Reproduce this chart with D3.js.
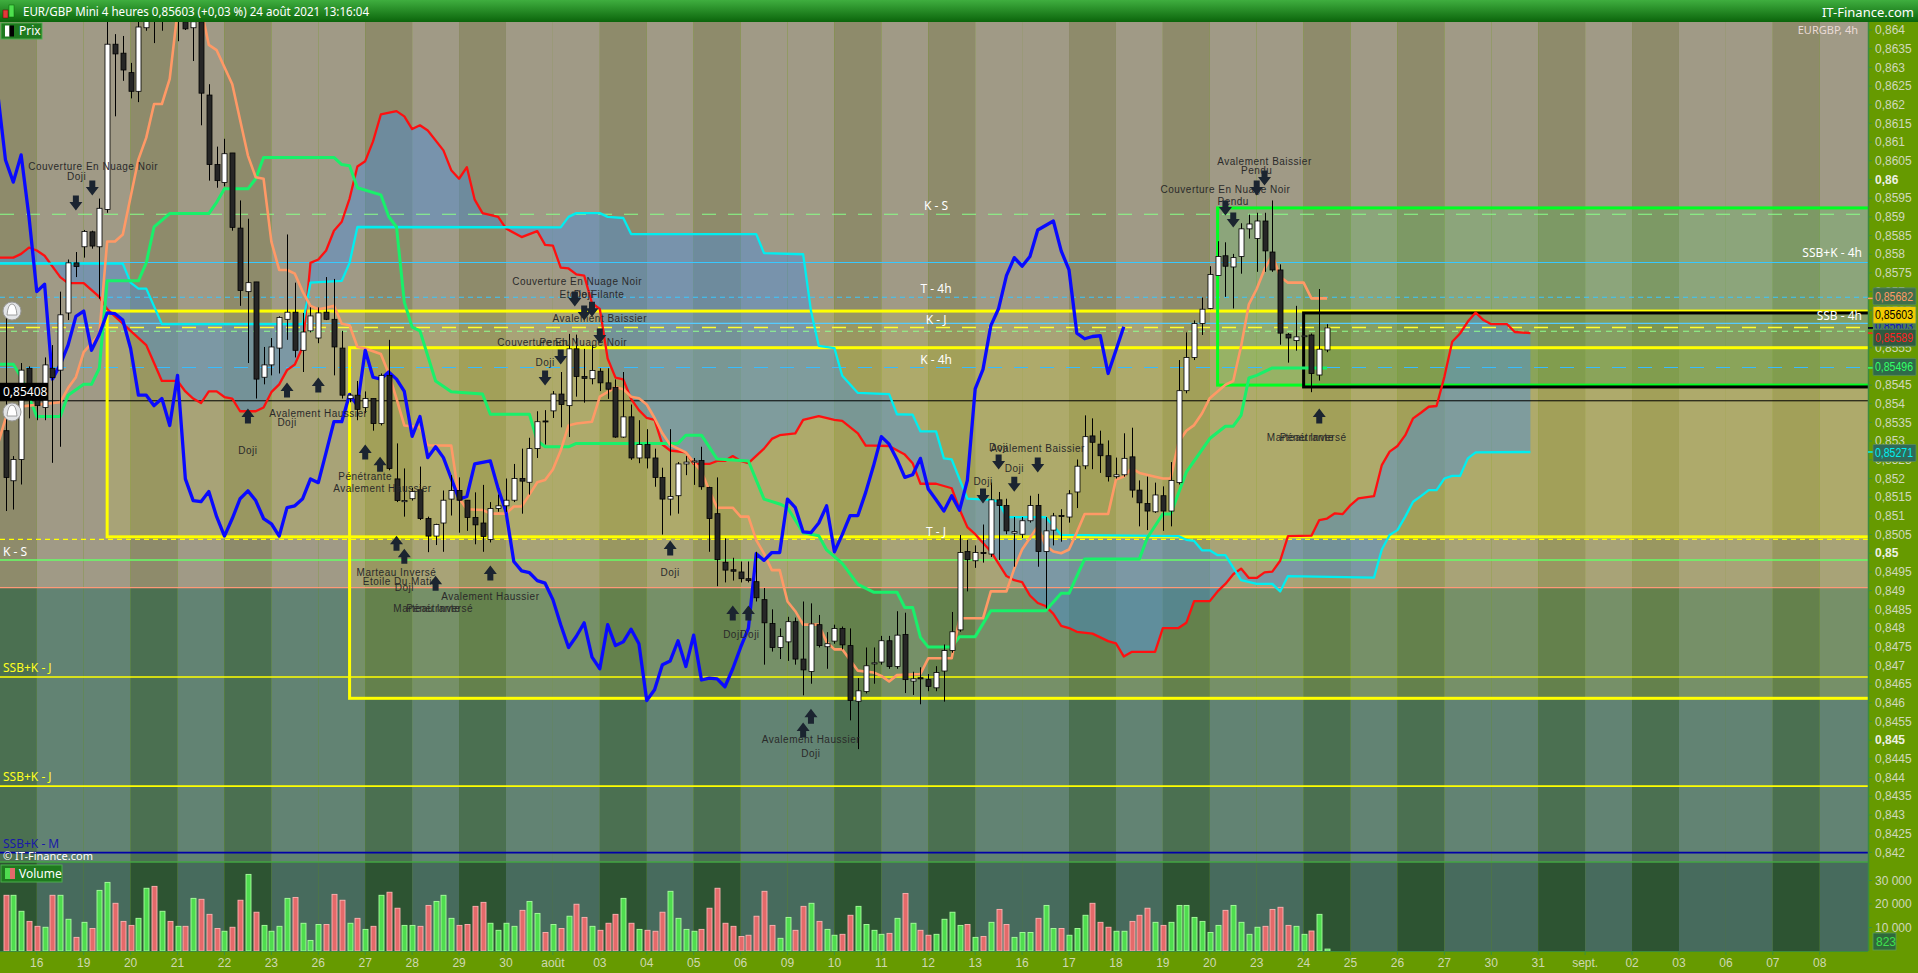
<!DOCTYPE html>
<html>
<head>
<meta charset="utf-8">
<script src="https://cdn.jsdelivr.net/npm/d3@7"></script>
<style>
html, body { margin: 0; padding: 0; background: #669a00; overflow: hidden; }
svg { display: block; }
</style>
</head>
<body>
<script>
// 4h candles, bar index 0 = 15 juil. 08:00 ... 169 = 24 août 12:00
const openP = [0.85328,0.85194,0.85251,0.85495,0.85420,0.85390,0.85495,0.85490,0.85643,0.85777,
0.85820,0.85860,0.85820,0.85920,0.86362,0.86338,0.86286,0.86236,0.86406,0.86500,
0.86450,0.86540,0.86440,0.86422,0.86406,0.86422,0.86226,0.86040,0.85992,0.86071,
0.85870,0.85700,0.85726,0.85471,0.85504,0.85549,0.85626,0.85645,0.85543,0.85595,
0.85576,0.85645,0.85626,0.85549,0.85414,0.85423,0.85390,0.85414,0.85347,0.85476,
0.85199,0.85138,0.85146,0.85170,0.85093,0.85046,0.85081,0.85145,0.85168,0.85142,
0.85096,0.85081,0.85037,0.85120,0.85127,0.85142,0.85200,0.85190,0.85280,0.85354,
0.85381,0.85426,0.85395,0.85547,0.85473,0.85467,0.85487,0.85456,0.85444,0.85311,
0.85365,0.85255,0.85291,0.85255,0.85203,0.85145,0.85154,0.85239,0.85244,0.85248,
0.85176,0.85106,0.84976,0.84956,0.84950,0.84932,0.84924,0.84876,0.84812,0.84748,
0.84763,0.84817,0.84717,0.84684,0.84809,0.84750,0.84765,0.84799,0.84753,0.84604,
0.84630,0.84704,0.84709,0.84766,0.84697,0.84783,0.84658,0.84667,0.84662,0.84640,
0.84685,0.84740,0.84795,0.85005,0.84980,0.85002,0.84998,0.85143,0.85128,0.85054,
0.85051,0.85087,0.85128,0.85005,0.85062,0.85101,0.85097,0.85164,0.85234,0.85314,
0.85292,0.85261,0.85205,0.85210,0.85258,0.85169,0.85133,0.85111,0.85154,0.85113,
0.85189,0.85435,0.85524,0.85615,0.85655,0.85743,0.85796,0.85766,0.85794,0.85868,
0.85842,0.85889,0.85806,0.85758,0.85586,0.85569,0.85580,0.85584,0.85477,0.85544];
const highP = [0.85634,0.85260,0.85509,0.85500,0.85433,0.85524,0.85557,0.85700,0.85786,0.85806,
0.85865,0.85863,0.85949,0.86422,0.86389,0.86384,0.86312,0.86440,0.86520,0.86550,
0.86580,0.86600,0.86550,0.86460,0.86450,0.86450,0.86255,0.86088,0.86109,0.86071,
0.85944,0.85895,0.85726,0.85552,0.85576,0.85634,0.85853,0.85724,0.85643,0.85658,
0.85658,0.85739,0.85734,0.85595,0.85428,0.85461,0.85433,0.85414,0.85481,0.85571,
0.85294,0.85227,0.85175,0.85232,0.85098,0.85079,0.85168,0.85209,0.85203,0.85142,
0.85163,0.85183,0.85137,0.85157,0.85200,0.85239,0.85280,0.85309,0.85380,0.85383,
0.85434,0.85485,0.85587,0.85585,0.85547,0.85557,0.85495,0.85495,0.85465,0.85485,
0.85398,0.85356,0.85332,0.85280,0.85229,0.85332,0.85244,0.85260,0.85255,0.85285,
0.85178,0.85203,0.85040,0.84988,0.84978,0.84978,0.85004,0.84907,0.84850,0.84799,
0.84830,0.84828,0.84871,0.84866,0.84835,0.84789,0.84809,0.84804,0.84799,0.84666,
0.84748,0.84748,0.84779,0.84779,0.84845,0.84841,0.84683,0.84695,0.84677,0.84698,
0.84756,0.84843,0.85049,0.85036,0.85021,0.85077,0.85189,0.85164,0.85146,0.85097,
0.85097,0.85154,0.85159,0.85097,0.85108,0.85118,0.85169,0.85251,0.85369,0.85361,
0.85328,0.85302,0.85256,0.85321,0.85336,0.85195,0.85205,0.85189,0.85179,0.85244,
0.85517,0.85591,0.85623,0.85684,0.85768,0.85835,0.85832,0.85801,0.85883,0.85906,
0.85911,0.85911,0.85944,0.85773,0.85589,0.85662,0.85584,0.85588,0.85707,0.85613];
const lowP = [0.85113,0.85117,0.85184,0.85361,0.85356,0.85356,0.85242,0.85285,0.85624,0.85739,
0.85791,0.85815,0.85681,0.85911,0.86169,0.86264,0.86217,0.86207,0.86398,0.86365,
0.86398,0.86440,0.86370,0.86400,0.86317,0.86145,0.85997,0.85978,0.85982,0.85863,
0.85662,0.85509,0.85414,0.85452,0.85476,0.85481,0.85571,0.85524,0.85485,0.85591,
0.85562,0.85624,0.85476,0.85414,0.85404,0.85356,0.85375,0.85328,0.85342,0.85222,
0.85137,0.85098,0.85141,0.85089,0.85003,0.85022,0.85004,0.85101,0.85055,0.85060,
0.85024,0.85004,0.85029,0.85111,0.85111,0.85137,0.85106,0.85157,0.85255,0.85291,
0.85362,0.85337,0.85311,0.85419,0.85403,0.85452,0.85434,0.85413,0.85309,0.85309,
0.85250,0.85241,0.85227,0.85178,0.85050,0.85101,0.85106,0.85209,0.85183,0.85170,
0.85004,0.84912,0.84922,0.84927,0.84922,0.84922,0.84871,0.84702,0.84737,0.84717,
0.84712,0.84702,0.84620,0.84651,0.84748,0.84691,0.84758,0.84743,0.84553,0.84476,
0.84625,0.84651,0.84702,0.84691,0.84691,0.84626,0.84621,0.84596,0.84631,0.84631,
0.84603,0.84734,0.84790,0.84898,0.84961,0.84975,0.84990,0.84982,0.85051,0.84964,
0.85041,0.85082,0.84964,0.84852,0.85021,0.85031,0.85082,0.85121,0.85225,0.85225,
0.85215,0.85192,0.85200,0.85205,0.85149,0.85072,0.85062,0.85108,0.85060,0.85072,
0.85184,0.85428,0.85517,0.85584,0.85653,0.85743,0.85686,0.85655,0.85748,0.85842,
0.85753,0.85753,0.85753,0.85558,0.85510,0.85542,0.85578,0.85431,0.85462,0.85538];
const closeP = [0.85203,0.85251,0.85490,0.85414,0.85395,0.85504,0.85470,0.85638,0.85777,0.85767,
0.85861,0.85822,0.85923,0.86362,0.86336,0.86293,0.86236,0.86408,0.86480,0.86460,
0.86520,0.86480,0.86500,0.86403,0.86422,0.86231,0.86040,0.85997,0.86069,0.85872,
0.85703,0.85724,0.85466,0.85504,0.85552,0.85631,0.85645,0.85543,0.85592,0.85635,
0.85643,0.85626,0.85552,0.85423,0.85423,0.85385,0.85414,0.85347,0.85476,0.85227,
0.85141,0.85141,0.85165,0.85093,0.85046,0.85077,0.85142,0.85168,0.85142,0.85096,
0.85076,0.85045,0.85120,0.85127,0.85142,0.85200,0.85193,0.85280,0.85352,0.85352,
0.85426,0.85398,0.85547,0.85473,0.85468,0.85489,0.85456,0.85439,0.85311,0.85365,
0.85255,0.85291,0.85255,0.85203,0.85145,0.85152,0.85239,0.85244,0.85247,0.85178,
0.85093,0.84983,0.84955,0.84952,0.84932,0.84927,0.84881,0.84814,0.84748,0.84777,
0.84817,0.84717,0.84688,0.84811,0.84753,0.84758,0.84799,0.84755,0.84606,0.84632,
0.84699,0.84707,0.84766,0.84697,0.84781,0.84662,0.84664,0.84664,0.84644,0.84681,
0.84740,0.84790,0.85002,0.84983,0.85002,0.85000,0.85143,0.85128,0.85060,0.85058,
0.85087,0.85128,0.85005,0.85060,0.85100,0.85099,0.85159,0.85233,0.85312,0.85297,
0.85261,0.85205,0.85210,0.85254,0.85169,0.85135,0.85113,0.85156,0.85113,0.85195,
0.85435,0.85524,0.85615,0.85653,0.85746,0.85794,0.85768,0.85791,0.85868,0.85881,
0.85889,0.85809,0.85758,0.85589,0.85576,0.85579,0.85582,0.85481,0.85546,0.85603];
const volume = [23700,23700,16900,12600,10500,10100,23700,23700,13500,5800,
12200,9600,25800,29200,20300,12600,10900,13900,26700,27500,
16900,12600,10500,10500,22400,22000,15600,9600,8400,10100,
21600,32600,16500,10900,8400,10500,22400,22800,11800,4500,
11300,11300,24100,21600,11800,13900,9200,10500,23700,25000,
18200,10900,10900,10500,19400,21100,23700,13900,10900,11300,
19000,20700,11800,8800,11800,10500,17300,21100,16000,7900,
11300,9600,14800,19900,14300,10500,8800,11800,15600,22400,
11800,9200,8800,8400,16500,25400,13900,9200,8400,9200,
18200,26700,11800,10500,6200,6700,14800,25400,10900,5400,
14300,8800,19000,20300,12600,9200,6700,7100,15200,19000,
11300,8800,7100,7500,13900,24500,11800,8800,6700,7100,
13500,16500,10900,11300,5800,6200,12200,17700,11300,5800,
7900,7900,13900,19400,9600,9600,6700,9600,15200,20300,
12200,10100,8400,8400,12600,15200,18200,12200,10900,12200,
19400,19400,14300,12600,7900,10900,17300,19400,12200,7100,
10100,10500,17700,18600,10900,10500,7100,8500,15600,823];

// Ichimoku lines as [bar, price] vertices
const tenkan = [[-1,0.85290],[0,0.85360],[1,0.85390],[3,0.85395],[7,0.85404],[8,0.85442],[9,0.85471],[10,0.85538],[12,0.85586],[13,0.85834],[14,0.85834],[15,0.85853],[17,0.86054],[18,0.86112],[19,0.86202],[20,0.86202],[21,0.86269],[22,0.86450],[25,0.86460],[26,0.86360],[27,0.86346],[29,0.86255],[30,0.86159],[31,0.86064],[32,0.86006],[33,0.86002],[34,0.85834],[35,0.85758],[36,0.85758],[37,0.85748],[38,0.85700],[39,0.85662],[40,0.85653],[41,0.85657],[42,0.85662],[43,0.85614],[44,0.85610],[45,0.85552],[46,0.85548],[48,0.85533],[49,0.85481],[50,0.85414],[51,0.85342],[53,0.85337],[54,0.85289],[57,0.85288],[58,0.85147],[59,0.85118],[61,0.85116],[62,0.85106],[64,0.85106],[65,0.85125],[66,0.85125],[67,0.85157],[68,0.85190],[69,0.85196],[70,0.85224],[71,0.85275],[72,0.85342],[73,0.85347],[75,0.85352],[76,0.85419],[78,0.85444],[79,0.85439],[80,0.85419],[81,0.85415],[82,0.85398],[83,0.85362],[84,0.85321],[85,0.85290],[86,0.85280],[87,0.85270],[88,0.85244],[89,0.85219],[90,0.85168],[91,0.85122],[93,0.85122],[94,0.85098],[95,0.85098],[96,0.85035],[97,0.84999],[98,0.84955],[99,0.84955],[100,0.84871],[101,0.84845],[102,0.84809],[104,0.84809],[105,0.84763],[106,0.84743],[107,0.84743],[109,0.84686],[111,0.84681],[112,0.84672],[113,0.84657],[114,0.84674],[117,0.84677],[118,0.84719],[121,0.84719],[122,0.84826],[125,0.84826],[126,0.84898],[128,0.84898],[129,0.84959],[130,0.85010],[132,0.85072],[133,0.85021],[134,0.85005],[135,0.85000],[136,0.85010],[137,0.85056],[138,0.85105],[141,0.85105],[142,0.85197],[143,0.85205],[144,0.85227],[145,0.85215],[147,0.85205],[148,0.85200],[149,0.85200],[150,0.85297],[151,0.85328],[152,0.85343],[153,0.85374],[154,0.85415],[156,0.85451],[157,0.85461],[158,0.85553],[159,0.85666],[160,0.85707],[161,0.85760],[162,0.85798],[163,0.85740],[164,0.85724],[166,0.85724],[167,0.85682],[169,0.85682]];
const kijun = [[-1,0.85506],[1,0.85506],[2,0.85471],[4,0.85366],[7,0.85366],[8,0.85423],[10,0.85452],[11,0.85452],[12,0.85495],[13,0.85729],[17,0.85729],[18,0.85777],[19,0.85873],[21,0.85909],[26,0.85909],[27,0.85939],[28,0.85975],[31,0.85975],[32,0.86002],[33,0.86059],[42,0.86059],[43,0.86040],[44,0.86037],[45,0.85978],[48,0.85959],[49,0.85901],[50,0.85873],[51,0.85672],[52,0.85605],[53,0.85595],[55,0.85461],[57,0.85432],[61,0.85426],[62,0.85372],[67,0.85372],[68,0.85301],[69,0.85285],[72,0.85285],[73,0.85294],[86,0.85294],[87,0.85316],[89,0.85316],[91,0.85252],[95,0.85247],[97,0.85145],[99,0.85132],[100,0.85122],[102,0.85055],[104,0.85047],[105,0.85009],[107,0.84973],[109,0.84917],[111,0.84896],[114,0.84896],[115,0.84855],[116,0.84855],[117,0.84775],[118,0.84749],[121,0.84749],[122,0.84777],[124,0.84777],[126,0.84846],[133,0.84846],[135,0.84893],[136,0.84893],[138,0.84985],[145,0.84985],[146,0.85041],[148,0.85105],[149,0.85105],[151,0.85217],[154,0.85307],[156,0.85340],[157,0.85340],[158,0.85369],[159,0.85469],[160,0.85476],[162,0.85496],[169,0.85496]];
const senkouA = [[-1,0.85791],[1,0.85791],[2,0.85801],[3,0.85818],[4,0.85810],[5,0.85796],[7,0.85739],[8,0.85723],[10,0.85723],[12,0.85686],[13,0.85653],[16,0.85595],[18,0.85557],[19,0.85509],[20,0.85461],[22,0.85461],[23,0.85433],[24,0.85414],[25,0.85402],[26,0.85433],[27,0.85433],[28,0.85418],[29,0.85414],[30,0.85380],[32,0.85380],[33,0.85390],[34,0.85431],[35,0.85452],[36,0.85490],[37,0.85505],[38,0.85552],[39,0.85777],[40,0.85786],[41,0.85810],[42,0.85863],[43,0.85887],[44,0.85949],[45,0.86035],[46,0.86049],[47,0.86102],[48,0.86174],[50,0.86183],[51,0.86169],[52,0.86135],[53,0.86145],[54,0.86131],[56,0.86078],[57,0.86025],[58,0.86002],[59,0.86033],[60,0.85946],[61,0.85910],[63,0.85900],[64,0.85869],[66,0.85846],[68,0.85862],[69,0.85825],[70,0.85823],[71,0.85764],[72,0.85762],[73,0.85746],[74,0.85743],[75,0.85669],[76,0.85654],[77,0.85521],[78,0.85470],[79,0.85465],[80,0.85413],[81,0.85383],[82,0.85362],[83,0.85357],[84,0.85291],[85,0.85275],[87,0.85270],[88,0.85239],[90,0.85239],[91,0.85247],[92,0.85247],[93,0.85260],[94,0.85247],[95,0.85241],[97,0.85280],[98,0.85306],[99,0.85316],[101,0.85321],[102,0.85357],[104,0.85367],[106,0.85357],[107,0.85354],[109,0.85321],[110,0.85288],[111,0.85288],[113,0.85287],[115,0.85264],[116,0.85241],[117,0.85186],[119,0.85186],[121,0.85174],[122,0.85118],[123,0.85070],[124,0.85051],[126,0.85005],[128,0.84939],[129,0.84928],[130,0.84923],[131,0.84887],[132,0.84867],[133,0.84859],[134,0.84838],[135,0.84806],[136,0.84800],[137,0.84790],[139,0.84785],[140,0.84775],[141,0.84765],[142,0.84759],[143,0.84724],[144,0.84736],[147,0.84736],[148,0.84800],[150,0.84800],[151,0.84814],[152,0.84872],[154,0.84872],[155,0.84898],[156,0.84918],[157,0.84944],[158,0.84959],[159,0.84934],[160,0.84934],[161,0.84949],[162,0.84951],[163,0.84980],[164,0.85046],[167,0.85047],[168,0.85089],[169,0.85093],[170,0.85107],[171,0.85105],[172,0.85129],[173,0.85147],[175,0.85153],[176,0.85236],[177,0.85272],[178,0.85287],[179,0.85316],[180,0.85361],[181,0.85376],[182,0.85392],[183,0.85394],[184,0.85472],[185,0.85566],[186,0.85588],[187,0.85620],[188,0.85644],[189,0.85624],[190,0.85613],[192,0.85613],[193,0.85592],[195,0.85589]];
const senkouB = [[-1,0.85775],[15,0.85775],[16,0.85724],[17,0.85708],[18,0.85708],[20,0.85613],[38,0.85613],[39,0.85724],[43,0.85729],[44,0.85777],[45,0.85873],[71,0.85872],[72,0.85900],[73,0.85910],[76,0.85910],[77,0.85900],[79,0.85897],[80,0.85854],[96,0.85854],[97,0.85803],[102,0.85800],[103,0.85649],[104,0.85555],[106,0.85549],[107,0.85475],[109,0.85429],[113,0.85426],[114,0.85372],[116,0.85371],[117,0.85326],[119,0.85326],[120,0.85254],[121,0.85251],[123,0.85146],[126,0.85143],[127,0.85138],[128,0.85097],[133,0.85097],[135,0.85049],[150,0.85046],[151,0.85036],[152,0.85033],[153,0.85008],[154,0.85008],[155,0.84995],[156,0.84995],[158,0.84928],[160,0.84918],[162,0.84918],[163,0.84898],[164,0.84939],[175,0.84935],[176,0.85010],[177,0.85049],[178,0.85062],[179,0.85098],[180,0.85138],[181,0.85153],[182,0.85169],[183,0.85169],[184,0.85200],[185,0.85207],[186,0.85207],[187,0.85254],[188,0.85270],[195,0.85271]];
const chikou = [[-1,0.86231],[0,0.86052],[1,0.85993],[2,0.86066],[3,0.85901],[4,0.85700],[5,0.85720],[6,0.85466],[7,0.85505],[8,0.85557],[9,0.85634],[10,0.85648],[11,0.85543],[12,0.85586],[13,0.85643],[14,0.85641],[15,0.85624],[16,0.85548],[17,0.85423],[18,0.85423],[19,0.85395],[20,0.85414],[21,0.85342],[22,0.85476],[23,0.85199],[24,0.85141],[25,0.85138],[26,0.85165],[27,0.85098],[28,0.85046],[29,0.85093],[30,0.85146],[31,0.85167],[32,0.85141],[33,0.85093],[34,0.85079],[35,0.85046],[36,0.85122],[37,0.85127],[38,0.85146],[39,0.85199],[40,0.85189],[41,0.85270],[42,0.85352],[43,0.85352],[44,0.85425],[45,0.85395],[46,0.85543],[47,0.85471],[48,0.85466],[49,0.85485],[50,0.85466],[51,0.85433],[52,0.85313],[53,0.85366],[54,0.85256],[55,0.85285],[56,0.85256],[57,0.85200],[58,0.85145],[59,0.85152],[60,0.85239],[61,0.85243],[62,0.85247],[63,0.85173],[64,0.85111],[65,0.84978],[66,0.84953],[67,0.84948],[68,0.84927],[69,0.84920],[70,0.84876],[71,0.84809],[72,0.84748],[73,0.84778],[74,0.84814],[75,0.84722],[76,0.84691],[77,0.84809],[78,0.84753],[79,0.84763],[80,0.84797],[81,0.84758],[82,0.84606],[83,0.84635],[84,0.84702],[85,0.84712],[86,0.84766],[87,0.84697],[88,0.84781],[89,0.84661],[90,0.84666],[91,0.84664],[92,0.84643],[93,0.84691],[94,0.84748],[95,0.84799],[96,0.84999],[97,0.84981],[98,0.85002],[99,0.85002],[100,0.85145],[101,0.85122],[102,0.85057],[103,0.85055],[104,0.85081],[105,0.85127],[106,0.85004],[107,0.85050],[108,0.85101],[109,0.85101],[110,0.85163],[111,0.85234],[112,0.85312],[113,0.85292],[114,0.85251],[115,0.85203],[116,0.85210],[117,0.85254],[118,0.85172],[119,0.85143],[120,0.85113],[121,0.85154],[122,0.85115],[123,0.85195],[124,0.85440],[125,0.85492],[126,0.85609],[127,0.85655],[128,0.85743],[129,0.85791],[130,0.85768],[131,0.85794],[132,0.85865],[133,0.85877],[134,0.85889],[135,0.85809],[136,0.85758],[137,0.85589],[138,0.85574],[139,0.85580],[140,0.85582],[141,0.85481],[142,0.85543],[143,0.85606]];

// day axis: first day (15 juil.) is partial and unlabelled
const dayLabels = ["16","19","20","21","22","23","26","27","28","29","30","août","03","04","05","06","09","10","11","12","13","16","17","18","19","20","23","24","25","26","27","30","31","sept.","02","03","06","07","08"];
const dayShade = [0,1,1,0,1,0,1,1,0,1,0,1,1,0,1,0,1,1,0,1,0,1,1,0,1,0,1,1,0,1,0,1,1,0,1,0,1,1,0,1];

// drawn levels
const hLevels = [0.85907,0.85778,0.85685,0.85615,0.85604,0.85594,0.85497,0.85408,0.85037,0.84982,0.84908,0.84669,0.84377,0.84199];
const rectStart = [13,44,155,166];
const rectTop = [0.85648,0.85550,0.85924,0.85643];
const rectBottom = [0.85044,0.84612,0.85450,0.85445];
const midLabels = [["K - S",0.85907],["T - 4h",0.85685],["K - J",0.85615],["K - 4h",0.85497],["T - J",0.85037]];
const rightLabels = [["SSB+K - 4h",0.85778],["SSB - 4h",0.85604]];
const leftLabels = [["K - S",0.85037],["SSB+K - J",0.84669],["SSB+K - J",0.84377],["SSB+K - M",0.84199]];

// candlestick pattern notes
const noteText = [[11.2,0.86036,"Couverture En Nuage Noir"],[9.1,0.86007,"Doji"],[40,0.85375,"Avalement Haussier"],[36,0.85351,"Doji"],[31,0.85276,"Doji"],[46,0.85206,"Pénétrante"],[48.2,0.85174,"Avalement Haussier"],[50,0.84949,"Marteau Inversé"],[50.5,0.84925,"Etoile Du Matin"],[51,0.84909,"Doji"],[62,0.84885,"Avalement Haussier"],[54.7,0.84853,"Marteau Inversé"],[54.7,0.84853,"Pénétrante"],[73.1,0.85726,"Couverture En Nuage Noir"],[75,0.85693,"Etoile Filante"],[73.9,0.85693,"Doji"],[76,0.85629,"Avalement Baissier"],[71.2,0.85565,"Couverture En Nuage Noir"],[70.3,0.85565,"Pendu"],[69,0.85511,"Doji"],[85,0.84949,"Doji"],[93,0.84783,"Doji"],[95.2,0.84783,"Doji"],[103,0.84502,"Avalement Haussier"],[103,0.84465,"Doji"],[161,0.86049,"Avalement Baissier"],[160,0.86023,"Pendu"],[156,0.85972,"Couverture En Nuage Noir"],[157,0.85940,"Pendu"],[127,0.85284,"Doji"],[132,0.85281,"Avalement Baissier"],[129,0.85228,"Doji"],[125,0.85193,"Doji"],[166.4,0.85311,"Marteau Inversé"],[166.4,0.85311,"Pénétrante"]];
const arrowsDown = [[9,0.85937],[11.1,0.85977],[72.8,0.85680],[74,0.85643],[75,0.85653],[76,0.85581],[71,0.85525],[69,0.85469],[161,0.86004],[160,0.85977],[156,0.85924],[157,0.85892],[127,0.85244],[132,0.85236],[129,0.85185],[125,0.85153]];
const arrowsUp = [[31,0.85367],[36,0.85437],[40,0.85450],[46,0.85271],[47.9,0.85238],[50,0.85027],[51,0.84992],[55,0.84920],[62,0.84947],[85,0.85014],[93,0.84840],[95,0.84840],[103,0.84564],[102,0.84527],[168,0.85367]];

const W = 1918, H = 973, plotR = 1868, plotT = 22, priceB = 862, volB = 951;
const font = "'Noto Sans', 'DejaVu Sans', sans-serif";
const axisFont = "'Liberation Sans', Arial, sans-serif";

const x = d3.scaleLinear().domain([0, 100]).range([5.5, 787.5]);
const y = d3.scaleLinear().domain([0.842, 0.864]).range([852.3, 30]);
const yVol = d3.scaleLinear().domain([0, 30000]).range([volB, 880.5]);
const fmt = v => (Math.round(v * 100000) / 100000).toString().replace(".", ",");

const svg = d3.select("body").append("svg").attr("width", W).attr("height", H)
  .style("font-family", font);
const defs = svg.append("defs");
defs.append("clipPath").attr("id", "plotClip").append("rect")
  .attr("x", 0).attr("y", plotT).attr("width", plotR).attr("height", priceB - plotT);
const hdr = defs.append("linearGradient").attr("id", "hdr").attr("x1", 0).attr("y1", 0).attr("x2", 0).attr("y2", 1);
hdr.append("stop").attr("offset", "0%").attr("stop-color", "#3fae3f");
hdr.append("stop").attr("offset", "100%").attr("stop-color", "#0b650b");

// background: day stripes over three horizontal zones
const bg = svg.append("g");
const zones = [
  [plotT, y(hLevels[10]), ["#8e8b6b", "#a09a86"]],
  [y(hLevels[10]), priceB, ["#4b7051", "#628373"]],
  [priceB, volB, ["#2d5432", "#476b5d"]]
];
dayShade.forEach((s, i) => {
  const k0 = 4 + 6 * (i - 1);
  const xa = Math.max(0, x(k0));
  const xb = i === dayShade.length - 1 ? plotR : Math.min(plotR, x(k0 + 6));
  zones.forEach(z => {
    bg.append("rect").attr("x", xa).attr("y", z[0]).attr("width", xb - xa).attr("height", z[1] - z[0])
      .attr("fill", z[2][s]);
  });
});

const plot = svg.append("g").attr("clip-path", "url(#plotClip)");

// zone rectangles (fills)
const rectFill = ["rgba(200,200,60,0.2)", "rgba(200,200,60,0.2)", "rgba(60,210,80,0.2)", "rgba(30,50,0,0.1)"];
const rectStroke = ["#ffff00", "#ffff00", "#00ff22", "#000000"];
rectStart.forEach((k, i) => {
  plot.append("rect").attr("x", x(k)).attr("y", y(rectTop[i]))
    .attr("width", plotR - x(k) + 10).attr("height", y(rectBottom[i]) - y(rectTop[i]))
    .attr("fill", rectFill[i]);
});

// cloud
const interp = (arr, k) => {
  if (k <= arr[0][0]) return arr[0][1];
  for (let i = 1; i < arr.length; i++) {
    if (k <= arr[i][0]) {
      const a = arr[i - 1], b = arr[i];
      return a[1] + (b[1] - a[1]) * (k - a[0]) / (b[0] - a[0]);
    }
  }
  return arr[arr.length - 1][1];
};
const cloudKs = Array.from(new Set(senkouA.map(d => d[0]).concat(senkouB.map(d => d[0])))).sort((a, b) => a - b);
plot.append("path")
  .datum(cloudKs)
  .attr("d", d3.area().x(k => x(k)).y0(k => y(interp(senkouA, k))).y1(k => y(interp(senkouB, k))))
  .attr("fill", "rgba(70,140,220,0.45)");

// horizontal levels
const levelStyle = [
  ["#88ff88", 1.2, "14,12"], ["#38c8ff", 1.2, null], ["#38c8ff", 1.2, "5,4"], ["#55ccff", 1.1, null],
  ["#ffff30", 1.3, "14,12"], ["#90ff90", 1.1, "6,5"], ["#38bcff", 1.2, "14,12"], ["#000000", 1, null],
  ["#ffff00", 1.3, "5,4"], ["#66ff66", 1.3, null], ["#ff9977", 1.3, null], ["#ffff00", 1.6, null],
  ["#ffff00", 1.6, null], ["#0000a8", 1.6, null]
];
hLevels.forEach((v, i) => {
  plot.append("line").attr("x1", 0).attr("x2", plotR).attr("y1", y(v)).attr("y2", y(v))
    .attr("stroke", levelStyle[i][0]).attr("stroke-width", levelStyle[i][1])
    .attr("stroke-dasharray", levelStyle[i][2]);
});
rectStart.forEach((k, i) => {
  plot.append("rect").attr("x", x(k)).attr("y", y(rectTop[i]))
    .attr("width", plotR - x(k) + 10).attr("height", y(rectBottom[i]) - y(rectTop[i]))
    .attr("fill", "none").attr("stroke", rectStroke[i]).attr("stroke-width", 3);
});

// ichimoku lines
const line = d3.line().x(d => x(d[0])).y(d => y(d[1]));
[[senkouA, "#ff1010", 2.3], [senkouB, "#00eef0", 2.3], [kijun, "#19f06a", 3], [tenkan, "#ff9966", 2.6], [chikou, "#0a0aff", 3.3]]
  .forEach(s => {
    plot.append("path").datum(s[0]).attr("d", line).attr("fill", "none")
      .attr("stroke", s[1]).attr("stroke-width", s[2]).attr("stroke-linejoin", "round");
  });

// candles
const candles = plot.append("g");
candles.selectAll("line").data(closeP).join("line")
  .attr("x1", (d, i) => Math.round(x(i)) + 0.5).attr("x2", (d, i) => Math.round(x(i)) + 0.5)
  .attr("y1", (d, i) => y(highP[i])).attr("y2", (d, i) => y(lowP[i]))
  .attr("stroke", "#000").attr("stroke-width", 1);
candles.selectAll("rect").data(closeP).join("rect")
  .attr("x", (d, i) => Math.round(x(i)) - 2)
  .attr("y", (d, i) => y(Math.max(d, openP[i])))
  .attr("width", 5)
  .attr("height", (d, i) => Math.max(1, y(Math.min(d, openP[i])) - y(Math.max(d, openP[i]))))
  .attr("fill", (d, i) => d >= openP[i] ? "#ffffff" : "#262626")
  .attr("stroke", "#000").attr("stroke-width", 0.8);

// pattern notes
const notes = plot.append("g").attr("font-family", axisFont)
  .attr("font-size", 10).attr("fill", "#2a2a2a").attr("letter-spacing", 0.5).attr("text-anchor", "middle");
noteText.forEach(d => {
  notes.append("text").attr("x", x(d[0])).attr("y", y(d[1])).attr("dy", "0.35em").text(d[2]);
});
const arrowPath = (cx, cy, s) =>
  `M${cx - 3},${cy - 7.5 * s} L${cx + 3},${cy - 7.5 * s} L${cx + 3},${cy - s} L${cx + 6.5},${cy - s} L${cx},${cy + 7.5 * s} L${cx - 6.5},${cy - s} L${cx - 3},${cy - s} Z`;
arrowsDown.forEach(d => notes.append("path").attr("d", arrowPath(x(d[0]), y(d[1]), 1)).attr("fill", "#1b2430"));
arrowsUp.forEach(d => notes.append("path").attr("d", arrowPath(x(d[0]), y(d[1]), -1)).attr("fill", "#1b2430"));

// level labels
const lbl = plot.append("g").attr("font-size", 12);
midLabels.forEach((d, i) => {
  lbl.append("text").attr("x", x(119)).attr("y", y(d[1]) + (i === 2 ? -4 : -8)).attr("dy", "0.35em")
    .attr("text-anchor", "middle").attr("fill", "#ffffff").text(d[0]);
});
rightLabels.forEach((d, i) => {
  lbl.append("text").attr("x", plotR - 6).attr("y", y(d[1]) + (i === 0 ? -10 : -12)).attr("dy", "0.35em")
    .attr("text-anchor", "end").attr("fill", "#ffffff").text(d[0]);
});
const leftCol = ["#ffffff", "#ffff20", "#ffff20", "#1a1aa8"];
leftLabels.forEach((d, i) => {
  lbl.append("text").attr("x", 3).attr("y", y(d[1]) + (i === 0 ? 12 : -9)).attr("dy", "0.35em")
    .attr("fill", leftCol[i]).text(d[0]);
});

// bells and price marker
[[12, 311], [12, 412]].forEach(p => {
  plot.append("circle").attr("cx", p[0]).attr("cy", p[1]).attr("r", 9)
    .attr("fill", "#e2e4e6").attr("stroke", "#9a9a9a").attr("stroke-width", 1);
  plot.append("path").attr("d", `M${p[0] - 5},${p[1] + 4} Q${p[0] - 4},${p[1] - 7} ${p[0]},${p[1] - 7} Q${p[0] + 4},${p[1] - 7} ${p[0] + 5},${p[1] + 4} Z`)
    .attr("fill", "#ffffff").attr("stroke", "#8a8a8a").attr("stroke-width", 0.8);
});
plot.append("rect").attr("x", 0).attr("y", y(hLevels[7]) - 18).attr("width", 48).attr("height", 18).attr("fill", "#000");
plot.append("text").attr("x", 3).attr("y", y(hLevels[7]) - 9).attr("dy", "0.35em").attr("font-size", 12)
  .attr("fill", "#fff").text(fmt(hLevels[7]));

svg.append("text").attr("x", plotR - 10).attr("y", 30).attr("dy", "0.35em").attr("text-anchor", "end")
  .attr("font-size", 11).attr("fill", "#eadad6").text("EURGBP, 4h");

// volume panel
const vol = svg.append("g");
vol.selectAll("rect").data(volume).join("rect")
  .attr("x", (d, i) => Math.round(x(i)) - 2)
  .attr("y", d => yVol(d)).attr("width", 5).attr("height", d => volB - yVol(d))
  .attr("fill", (d, i) => closeP[i] >= openP[i] ? "#4fdc4f" : "#e46a6a")
  .attr("stroke", (d, i) => closeP[i] >= openP[i] ? "#a8ff9e" : "#ffb2b2").attr("stroke-width", 0.9);
svg.append("line").attr("x1", 0).attr("x2", plotR).attr("y1", priceB).attr("y2", priceB)
  .attr("stroke", "#43a543").attr("stroke-width", 1.5);
svg.append("text").attr("x", 3).attr("y", 856).attr("dy", "0.35em").attr("font-size", 11)
  .attr("fill", "#ffffff").text("© IT-Finance.com");
svg.append("rect").attr("x", 1).attr("y", 865).attr("width", 61).attr("height", 17)
  .attr("fill", "#1f7a1f").attr("stroke", "#4caf4c");
svg.append("rect").attr("x", 5).attr("y", 868).attr("width", 5).attr("height", 11).attr("fill", "#4fdc4f");
svg.append("rect").attr("x", 10).attr("y", 868).attr("width", 5).attr("height", 11).attr("fill", "#e46a6a");
svg.append("text").attr("x", 19).attr("y", 874).attr("dy", "0.35em").attr("font-size", 12)
  .attr("fill", "#ffffff").text("Volume");

// right axis
const ax = svg.append("g").attr("font-family", axisFont);
ax.append("rect").attr("x", plotR).attr("y", plotT).attr("width", W - plotR).attr("height", volB - plotT).attr("fill", "#669a00");
ax.append("line").attr("x1", plotR + 0.5).attr("x2", plotR + 0.5).attr("y1", plotT).attr("y2", volB)
  .attr("stroke", "#3c8c3c").attr("stroke-width", 1.5);
d3.range(0, 45).forEach(i => {
  const v = 0.842 + i * 0.0005;
  const strong = [6, 16, 36].includes(i);
  ax.append("line").attr("x1", plotR).attr("x2", plotR + 4).attr("y1", y(v)).attr("y2", y(v)).attr("stroke", "#3d8f3d");
  ax.append("text").attr("x", 1875).attr("y", y(v)).attr("dy", "0.35em").attr("font-size", 12)
    .attr("font-weight", strong ? "bold" : "normal")
    .attr("fill", strong ? "#eef0e4" : "#d0d8bc").text(fmt(v));
});
[10000, 20000, 30000].forEach(v => {
  ax.append("line").attr("x1", plotR).attr("x2", plotR + 4).attr("y1", yVol(v)).attr("y2", yVol(v)).attr("stroke", "#3d8f3d");
  ax.append("text").attr("x", 1875).attr("y", yVol(v)).attr("dy", "0.35em").attr("font-size", 12)
    .attr("fill", "#d0d8bc").text(d3.format(",")(v).replace(",", " "));
});

// value boxes on the axis
const lastTenkan = tenkan[tenkan.length - 1][1];
const lastKijun = kijun[kijun.length - 1][1];
const lastA = senkouA[senkouA.length - 1][1];
const lastB = senkouB[senkouB.length - 1][1];
const lastClose = closeP[closeP.length - 1];
const boxes = [
  [lastClose, -2, "#1010c0", "#4a7a52"],
  [lastTenkan, -2, "#ff9966", "#3f6f4c"],
  [lastA, 4.5, "#ff2020", "#2f5a40"],
  [lastClose, -13, "#000000", "#f2cc00"],
  [lastKijun, -1, "#33ff66", "#2f6a4a"],
  [lastB, 1, "#00f0f0", "#2f6a5a"]
];
boxes.forEach(b => {
  const cy = y(b[0]) + b[1];
  ax.append("line").attr("x1", plotR).attr("x2", plotR + 5).attr("y1", y(b[0])).attr("y2", y(b[0]))
    .attr("stroke", b[2]).attr("stroke-width", 1.5);
  ax.append("rect").attr("x", 1873).attr("y", cy - 8.5).attr("width", 43).attr("height", 17)
    .attr("fill", b[3]).attr("stroke", "#5c8c5c").attr("stroke-width", 0.8).attr("rx", 1);
  ax.append("text").attr("x", 1875).attr("y", cy).attr("dy", "0.35em").attr("font-size", 12)
    .attr("textLength", 38).attr("lengthAdjust", "spacingAndGlyphs")
    .attr("fill", b[2]).text(fmt(b[0]));
});
ax.append("rect").attr("x", 1873).attr("y", 933).attr("width", 23).attr("height", 17)
  .attr("fill", "#2f6a3a").attr("stroke", "#5c9c5c").attr("stroke-width", 0.8);
ax.append("text").attr("x", 1876).attr("y", 942).attr("dy", "0.35em").attr("font-size", 12)
  .attr("fill", "#3ee04e").text(volume[volume.length - 1]);

// bottom axis
const bx = svg.append("g").attr("font-family", axisFont);
bx.append("rect").attr("x", 0).attr("y", volB).attr("width", W).attr("height", H - volB).attr("fill", "#669a00");
bx.append("line").attr("x1", 0).attr("x2", plotR).attr("y1", volB + 0.5).attr("y2", volB + 0.5).attr("stroke", "#3c8c3c");
dayLabels.forEach((t, i) => {
  const xi = x(4 + 6 * i);
  bx.append("line").attr("x1", xi).attr("x2", xi).attr("y1", volB).attr("y2", volB + 4).attr("stroke", "#3d8f3d");
  bx.append("text").attr("x", xi).attr("y", 963).attr("dy", "0.35em").attr("text-anchor", "middle")
    .attr("font-size", 12).attr("fill", "#cfd8b0").text(t);
});

// header
svg.append("rect").attr("x", 0).attr("y", 0).attr("width", W).attr("height", plotT).attr("fill", "url(#hdr)");
svg.append("rect").attr("x", 3).attr("y", 10).attr("width", 5).attr("height", 8).attr("fill", "#e23a3a").attr("stroke", "#600").attr("stroke-width", 0.5);
svg.append("rect").attr("x", 9).attr("y", 5).attr("width", 5).attr("height", 12).attr("fill", "#4ee04e").attr("stroke", "#060").attr("stroke-width", 0.5);
svg.append("text").attr("x", 23).attr("y", 12).attr("dy", "0.35em").attr("font-size", 12.5)
  .attr("fill", "#ffffff").attr("textLength", 346).attr("lengthAdjust", "spacingAndGlyphs")
  .text("EUR/GBP Mini 4 heures 0,85603 (+0,03 %) 24 août 2021 13:16:04");
svg.append("text").attr("x", 1914).attr("y", 12).attr("dy", "0.35em").attr("text-anchor", "end")
  .attr("font-size", 13).attr("fill", "#ffffff").text("IT-Finance.com");

// price legend
svg.append("rect").attr("x", 1).attr("y", 23).attr("width", 41).attr("height", 16)
  .attr("fill", "#1f7a1f").attr("stroke", "#4caf4c");
svg.append("rect").attr("x", 5).attr("y", 25.5).attr("width", 4.5).attr("height", 11).attr("fill", "#ffffff");
svg.append("rect").attr("x", 9.5).attr("y", 25.5).attr("width", 4.5).attr("height", 11).attr("fill", "#000000");
svg.append("text").attr("x", 19).attr("y", 31).attr("dy", "0.35em").attr("font-size", 12)
  .attr("fill", "#ffffff").text("Prix");
</script>
</body>
</html>
